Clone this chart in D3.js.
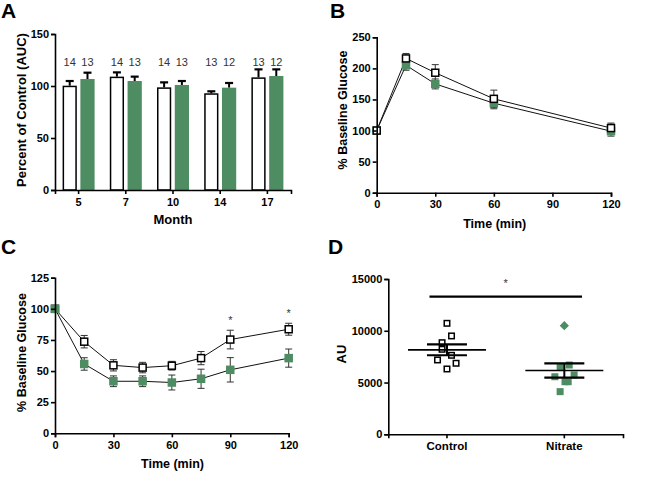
<!DOCTYPE html>
<html><head><meta charset="utf-8">
<script src="https://cdn.jsdelivr.net/npm/d3@7"></script>
<style>body{margin:0;background:#fff}svg{display:block}text{font-family:Arial,'Liberation Sans',Helvetica,sans-serif}</style>
</head><body><svg id="c" width="659" height="482"></svg>
<script>
// ---------- DATA ----------
// Panel A
const months = ["5", "7", "10", "14", "17"];
const aControl = [100.3, 109, 98.7, 93, 108.3];
const aControlErr = [4.5, 4.1, 4.8, 1.9, 7.7];
const aNitrate = [106.7, 104.8, 101, 98.4, 109.6];
const aNitrateErr = [6.1, 4.2, 3.8, 4.5, 6.4];
const aNControl = [14, 14, 14, 13, 13];
const aNNitrate = [13, 13, 13, 12, 12];
const aYTicks = [0, 50, 100, 150];
// Panel B
const bTimes = [0, 15, 30, 60, 120];
const bControl = [100, 216, 193, 151, 104];
const bControlErr = [0, 8, 13, 14, 8];
const bNitrate = [100, 205, 175, 144, 99];
const bNitrateErr = [0, 8, 8, 9, 8];
const bXTicks = [0, 30, 60, 90, 120];
const bYTicks = [0, 50, 100, 150, 200, 250];
// Panel C
const cTimes = [0, 15, 30, 45, 60, 75, 90, 120];
const cControl = [100, 73.6, 54.6, 52.8, 54.3, 60.4, 75.3, 83.6];
const cControlErr = [0, 5, 4.5, 4.2, 3.5, 5.3, 7.5, 4.8];
const cNitrate = [100, 55.7, 41.8, 41.8, 40.8, 43.8, 51, 60.4];
const cNitrateErr = [0, 5, 4.3, 4.3, 6, 7.7, 9.8, 7.3];
const cStars = [90, 120];
const cXTicks = [0, 30, 60, 90, 120];
const cYTicks = [0, 25, 50, 75, 100, 125];
// Panel D
const dGroups = ["Control", "Nitrate"];
const dControl = [10720, 9500, 8850, 8210, 7630, 7180, 6860, 6310];
const dNitrate = [10490, 6690, 6530, 5730, 5560, 5080, 5080, 4120];
// horizontal scatter spread of points, in marker widths
const dControlJitter = [0, 0.65, -0.7, -0.7, 0.65, -1.35, 1.3, 0];
const dNitrateJitter = [0, 0.7, -0.6, 1.4, -1.35, 0.1, 0.55, -0.6];
const dNitrateShape = ["diamond", "square", "square", "square", "square", "square", "square", "square"];
const dSigLevel = 13300;
const dYTicks = [0, 5000, 10000, 15000];

// ---------- DRAW ----------
const GREEN = "#4e8c62";
const svg = d3.select("#c");

function styleAxis(g, fs) {
  g.select(".domain").attr("stroke", "#000").attr("stroke-width", 1.6);
  g.selectAll(".tick line").attr("stroke", "#000").attr("stroke-width", 1.6);
  g.selectAll(".tick text").attr("font-weight", "bold").attr("font-size", fs || 11).attr("fill", "#000");
  g.attr("font-family", null);
}
function label(txt, x, y) {
  svg.append("text").attr("x", x).attr("y", y).attr("font-size", 21).attr("font-weight", "bold").text(txt);
}
function yTitle(txt, x, y, fs) {
  svg.append("text").attr("transform", `translate(${x},${y}) rotate(-90)`).attr("text-anchor", "middle")
    .attr("font-size", fs).attr("font-weight", "bold").text(txt);
}
function xTitle(txt, x, y, fs) {
  svg.append("text").attr("x", x).attr("y", y).attr("text-anchor", "middle")
    .attr("font-size", fs).attr("font-weight", "bold").text(txt);
}

// ===== Panel A =====
(function () {
  const x = d3.scaleBand().domain(months).range([55, 291]);
  const sub = d3.scaleBand().domain(["Control", "Nitrate"]).range([-16, 16]).paddingInner(0.2);
  const y = d3.scaleLinear().domain([0, 150]).range([190, 34]);
  const g = svg.append("g");
  const rows = months.map((m, i) => ({ m, i }));
  const series = [
    { key: "Control", vals: aControl, err: aControlErr, n: aNControl, fill: "#fff", stroke: "#000" },
    { key: "Nitrate", vals: aNitrate, err: aNitrateErr, n: aNNitrate, fill: GREEN, stroke: "none" }
  ];
  series.forEach(s => {
    const cx = d => x(d.m) + x.bandwidth() / 2 + sub(s.key) + sub.bandwidth() / 2;
    // error bars (upper only)
    g.selectAll(null).data(rows).enter().append("line")
      .attr("x1", cx).attr("x2", cx).attr("y1", d => y(s.vals[d.i])).attr("y2", d => y(s.vals[d.i] + s.err[d.i]))
      .attr("stroke", "#000").attr("stroke-width", 2);
    g.selectAll(null).data(rows).enter().append("line")
      .attr("x1", d => cx(d) - 4).attr("x2", d => cx(d) + 4)
      .attr("y1", d => y(s.vals[d.i] + s.err[d.i])).attr("y2", d => y(s.vals[d.i] + s.err[d.i]))
      .attr("stroke", "#000").attr("stroke-width", 2.2);
    const sw = s.stroke === "none" ? 0 : 1.5;
    g.selectAll(null).data(rows).enter().append("rect")
      .attr("x", d => x(d.m) + x.bandwidth() / 2 + sub(s.key) + sw / 2)
      .attr("width", sub.bandwidth() - sw)
      .attr("y", d => y(s.vals[d.i]) + sw / 2)
      .attr("height", d => y(0) - y(s.vals[d.i]) - sw / 2)
      .attr("fill", s.fill).attr("stroke", s.stroke).attr("stroke-width", sw);
    g.selectAll(null).data(rows).enter().append("text")
      .attr("x", cx).attr("y", 66).attr("text-anchor", "middle").attr("font-size", 11).attr("fill", "#333")
      .text(d => s.n[d.i]);
  });
  const ax = svg.append("g").attr("transform", "translate(0,190)")
    .call(d3.axisBottom(x).tickSizeOuter(0).tickSize(4).tickPadding(4));
  styleAxis(ax);
  const ay = svg.append("g").attr("transform", "translate(55,0)")
    .call(d3.axisLeft(y).tickValues(aYTicks).tickSizeOuter(0).tickSize(4).tickPadding(2));
  styleAxis(ay);
  yTitle("Percent of Control (AUC)", 26, 110, 13);
  xTitle("Month", 173, 224, 13);
  label("A", 1, 18);
})();

// line-chart helper for B and C
function linePanel(o) {
  const x = d3.scaleLinear().domain([0, 120]).range(o.xr);
  const y = d3.scaleLinear().domain(o.yd).range(o.yr);
  const g = svg.append("g");
  const line = d3.line().x(d => x(d[0])).y(d => y(d[1]));
  const sets = [
    { t: o.times, v: o.nit, e: o.nitErr, kind: "green" },
    { t: o.times, v: o.ctl, e: o.ctlErr, kind: "open" }
  ];
  sets.forEach(s => {
    g.append("path").datum(s.t.map((t, i) => [t, s.v[i]])).attr("d", line)
      .attr("fill", "none").attr("stroke", "#111").attr("stroke-width", 1);
  });
  sets.forEach(s => {
    const idx = s.t.map((t, i) => i).filter(i => s.e[i] > 0);
    g.selectAll(null).data(idx).enter().append("line")
      .attr("x1", i => x(s.t[i])).attr("x2", i => x(s.t[i]))
      .attr("y1", i => y(s.v[i] - s.e[i])).attr("y2", i => y(s.v[i] + s.e[i]))
      .attr("stroke", "#333").attr("stroke-width", 1);
    [-1, 1].forEach(sg => {
      g.selectAll(null).data(idx).enter().append("line")
        .attr("x1", i => x(s.t[i]) - 3.5).attr("x2", i => x(s.t[i]) + 3.5)
        .attr("y1", i => y(s.v[i] + sg * s.e[i])).attr("y2", i => y(s.v[i] + sg * s.e[i]))
        .attr("stroke", "#333").attr("stroke-width", 1);
    });
  });
  const drawOrder = o.greenOnTop ? [sets[1], sets[0]] : sets;
  drawOrder.forEach(s => {
    const idx = s.t.map((t, i) => i);
    if (s.kind === "green") {
      const sz = 8.5;
      g.selectAll(null).data(idx).enter().append("rect")
        .attr("x", i => x(s.t[i]) - sz / 2).attr("y", i => y(s.v[i]) - sz / 2)
        .attr("width", sz).attr("height", sz).attr("fill", GREEN);
    } else {
      const sz = 7;
      g.selectAll(null).data(idx).enter().append("rect")
        .attr("x", i => x(s.t[i]) - sz / 2).attr("y", i => y(s.v[i]) - sz / 2)
        .attr("width", sz).attr("height", sz).attr("fill", "#fff").attr("stroke", "#000").attr("stroke-width", 1.5);
    }
  });
  if (o.stars) {
    g.selectAll(null).data(o.stars).enter().append("text")
      .attr("x", t => x(t)).attr("y", t => { const i = o.times.indexOf(t); return y(o.ctl[i] + o.ctlErr[i]) - 6; })
      .attr("text-anchor", "middle").attr("font-size", 11).attr("fill", "#333").text("*");
  }
  const ax = svg.append("g").attr("transform", `translate(0,${o.yr[0]})`)
    .call(d3.axisBottom(x).tickValues(o.xTicks).tickSizeOuter(0).tickSize(4).tickPadding(4));
  styleAxis(ax);
  const ay = svg.append("g").attr("transform", `translate(${o.xr[0]},0)`)
    .call(d3.axisLeft(y).tickValues(o.yTicks).tickSizeOuter(0).tickSize(4).tickPadding(2));
  styleAxis(ay);
}

// ===== Panel B =====
linePanel({
  xr: [376.7, 611], yd: [0, 250], yr: [192.7, 37.3],
  times: bTimes, ctl: bControl, ctlErr: bControlErr, nit: bNitrate, nitErr: bNitrateErr,
  xTicks: bXTicks, yTicks: bYTicks, greenOnTop: false
});
yTitle("% Baseline Glucose", 347, 110, 12.5);
xTitle("Time (min)", 494.7, 227.5, 12.5);
label("B", 330, 18);

// ===== Panel C =====
linePanel({
  xr: [55, 288.7], yd: [0, 125], yr: [433.3, 277.7],
  times: cTimes, ctl: cControl, ctlErr: cControlErr, nit: cNitrate, nitErr: cNitrateErr,
  xTicks: cXTicks, yTicks: cYTicks, greenOnTop: true, stars: cStars
});
yTitle("% Baseline Glucose", 26, 352.5, 12.5);
xTitle("Time (min)", 172.5, 467.5, 12.5);
label("C", 1, 254);

// ===== Panel D =====
(function () {
  const x = d3.scaleBand().domain(dGroups).range([388.3, 623]);
  const y = d3.scaleLinear().domain([0, 15000]).range([434.3, 279]);
  const g = svg.append("g");
  const cx = k => x(k) + x.bandwidth() / 2;
  const ms = 7;
  // control open squares
  g.selectAll(null).data(dControl).enter().append("rect")
    .attr("x", (d, i) => cx("Control") + dControlJitter[i] * ms - ms / 2 + 0.75)
    .attr("y", d => y(d) - ms / 2 + 0.75).attr("width", ms - 1.5).attr("height", ms - 1.5)
    .attr("fill", "none").attr("stroke", "#000").attr("stroke-width", 1.5);
  // nitrate filled markers
  const nit = dNitrate.map((v, i) => ({ v, i }));
  g.selectAll(null).data(nit.filter(d => dNitrateShape[d.i] === "square")).enter().append("rect")
    .attr("x", d => cx("Nitrate") + dNitrateJitter[d.i] * ms - ms / 2)
    .attr("y", d => y(d.v) - ms / 2).attr("width", ms).attr("height", ms).attr("fill", GREEN);
  g.selectAll(null).data(nit.filter(d => dNitrateShape[d.i] === "diamond")).enter().append("path")
    .attr("transform", d => `translate(${cx("Nitrate") + dNitrateJitter[d.i] * ms},${y(d.v)})`)
    .attr("d", "M0,-4.6L4.6,0L0,4.6L-4.6,0Z").attr("fill", GREEN);
  // mean & SEM
  [["Control", dControl], ["Nitrate", dNitrate]].forEach(([k, arr]) => {
    const m = d3.mean(arr), sem = d3.deviation(arr) / Math.sqrt(arr.length);
    const c = cx(k);
    g.append("line").attr("x1", c - 39).attr("x2", c + 39).attr("y1", y(m)).attr("y2", y(m))
      .attr("stroke", "#000").attr("stroke-width", 1.6);
    g.append("line").attr("x1", c).attr("x2", c).attr("y1", y(m - sem)).attr("y2", y(m + sem))
      .attr("stroke", "#000").attr("stroke-width", 2);
    [m - sem, m + sem].forEach(v => g.append("line").attr("x1", c - 20).attr("x2", c + 20)
      .attr("y1", y(v)).attr("y2", y(v)).attr("stroke", "#000").attr("stroke-width", 2.2));
  });
  // significance
  g.append("line").attr("x1", cx("Control") - 17.5).attr("x2", cx("Nitrate") + 17.7)
    .attr("y1", y(dSigLevel)).attr("y2", y(dSigLevel)).attr("stroke", "#000").attr("stroke-width", 2.2);
  g.append("text").attr("x", (cx("Control") + cx("Nitrate")) / 2).attr("y", y(dSigLevel) - 10)
    .attr("text-anchor", "middle").attr("font-size", 11).attr("fill", "#333").text("*");
  const ax = svg.append("g").attr("transform", "translate(0,434.3)")
    .call(d3.axisBottom(x).tickSizeOuter(0).tickSize(4).tickPadding(4));
  styleAxis(ax, 11.5);
  const ay = svg.append("g").attr("transform", "translate(388.3,0)")
    .call(d3.axisLeft(y).tickValues(dYTicks).tickFormat(d3.format("d")).tickSizeOuter(0).tickSize(4).tickPadding(2));
  styleAxis(ay);
  yTitle("AU", 346, 354, 13);
  label("D", 328, 254);
})();
</script></body></html>
